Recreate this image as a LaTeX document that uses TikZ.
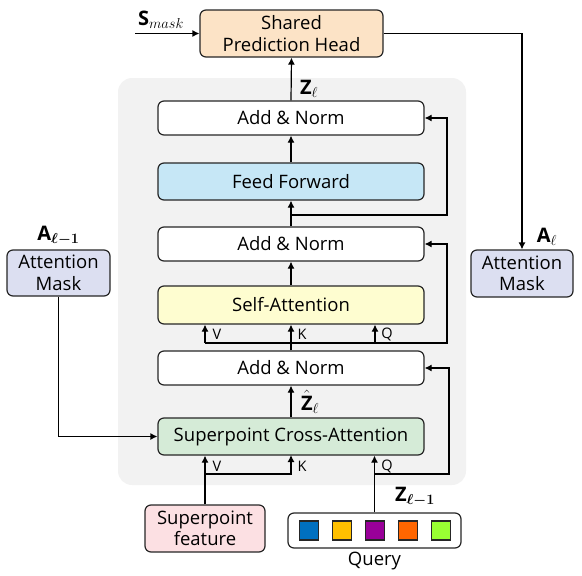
\documentclass[tikz,border=0pt]{standalone}
\usepackage{fontspec}
\usepackage{bm}
\setmainfont{Open Sans}
\usetikzlibrary{arrows.meta}
\definecolor{headfill}{HTML}{FCE3C6}
\definecolor{fffill}{HTML}{C6E7F6}
\definecolor{safill}{HTML}{FEFDD0}
\definecolor{cafill}{HTML}{D5EBD7}
\definecolor{spfill}{HTML}{FCE0E3}
\definecolor{maskfill}{HTML}{DCDFF1}
\definecolor{bgfill}{HTML}{F2F2F2}
\definecolor{q1}{HTML}{0070C0}
\definecolor{q2}{HTML}{FFC000}
\definecolor{q3}{HTML}{990099}
\definecolor{q4}{HTML}{FF6600}
\definecolor{q5}{HTML}{99FF33}
\tikzset{
  blk/.style={draw=black!85, line width=1.2pt, rounded corners=6pt, align=center, inner sep=0pt, font=\fontsize{18.5}{21.5}\selectfont},
  wide/.style={blk, minimum width=266pt, minimum height=34pt},
  arr/.style={-{Latex[length=7pt,width=7pt]}, line width=1.2pt},
  small/.style={font=\fontsize{14.5}{15}\selectfont, inner sep=1pt},
  mlab/.style={font=\fontsize{20}{21}\selectfont, inner sep=1pt},
  sq/.style={draw=black!85, line width=1.2pt, minimum size=19pt, inner sep=0pt}
}
\begin{document}
\begin{tikzpicture}[x=1pt,y=-1pt]
\useasboundingbox (0,0) rectangle (582,576);
\fill[bgfill, rounded corners=14pt] (118,78) rectangle (466,485);

\node[blk, fill=headfill, minimum width=183pt, minimum height=47pt] (head) at (291.5,33.5) {Shared\\Prediction Head};
\node[wide, fill=white] (an1) at (291,118) {Add \& Norm};
\node[wide, fill=fffill, minimum height=37pt] (ff) at (291,181.5) {Feed Forward};
\node[wide, fill=white] (an2) at (291,244) {Add \& Norm};
\node[wide, fill=safill, minimum height=38pt] (sa) at (291,305) {Self-Attention};
\node[wide, fill=white] (an3) at (291,368) {Add \& Norm};
\node[wide, fill=cafill, minimum height=37pt] (ca) at (291,436.5) {Superpoint Cross-Attention};
\node[blk, fill=spfill, minimum width=120pt, minimum height=47pt] (sp) at (205,528.5) {Superpoint\\feature};
\node[blk, fill=white, minimum width=173pt, minimum height=35pt] (query) at (374.5,530.5) {};
\node[sq, fill=q1] (s1) at (309,530.5) {};
\node[sq, fill=q2] (s2) at (342,530.5) {};
\node[sq, fill=q3] (s3) at (375,530.5) {};
\node[sq, fill=q4] (s4) at (408,530.5) {};
\node[sq, fill=q5] (s5) at (441,530.5) {};
\node[font=\fontsize{18.5}{19}\selectfont, inner sep=0pt] (qlab) at (374.5,561) {Query};
\node[blk, fill=maskfill, minimum width=103pt, minimum height=46pt] (lm) at (58.5,273) {Attention\\Mask};
\node[blk, fill=maskfill, minimum width=102pt, minimum height=47pt] (rm) at (522,273.5) {Attention\\Mask};

% labels
\node[mlab] (lsm) at (161,20) {$\mathbf{S}_{mask}$};
\node[mlab] (lz) at (309,89) {$\mathbf{Z}_{\ell}$};
\node[mlab] (lzh) at (310,402) {$\hat{\mathbf{Z}}_{\ell}$};
\node[mlab] (lzq) at (415,497) {$\mathbf{Z}_{\bm{\ell-1}}$};
\node[mlab] (lal) at (58.5,236) {$\mathbf{A}_{\bm{\ell-1}}$};
\node[mlab] (lar) at (547,237) {$\mathbf{A}_{\ell}$};

% top
\coordinate (sm0) at (135,33.5);
\draw[arr] (sm0) -- (head.west);
\draw[arr] (an1.north) -- (head.south);
\draw[arr] (head.east) -| (rm.north);
\draw[arr] (ff.north) -- (an1.south);
\draw[arr] (an2.north) -- (ff.south);
\coordinate (jf) at (291,215);
\draw[arr] (jf) -- (447,215) |- (an1.east);
\draw[arr] (sa.north) -- (an2.south);

% self-attention inputs
\coordinate (jv) at (205,343);
\coordinate (jq) at (375,343);
\draw[arr] (an3.north) -- (sa.south);
\draw[arr] (jv) -- (jv |- sa.south);
\draw[arr] (jq) -- (jq |- sa.south);
\draw[arr] (jv) -- (447,343) |- (an2.east);
\node[small] (v1) at (217,334) {V};
\node[small] (k1) at (302,334) {K};
\node[small] (qq1) at (387,334) {Q};

% cross-attention
\draw[arr] (ca.north) -- (an3.south);
\coordinate (jv2) at (205,474);
\draw[arr] (sp.north) -- (sp.north |- ca.south);
\draw[arr] (jv2) -| (291,455);
\draw[arr] (query.north) -- (query.north |- ca.south);
\coordinate (jq2) at (374.5,474);
\draw[arr] (jq2) -- (449,474) |- (an3.east);
\node[small] (v2) at (217,466) {V};
\node[small] (k2) at (302,466) {K};
\node[small] (qq2) at (387,466) {Q};

% left mask
\draw[arr] (lm.south) |- (ca.west);
\end{tikzpicture}
\end{document}
